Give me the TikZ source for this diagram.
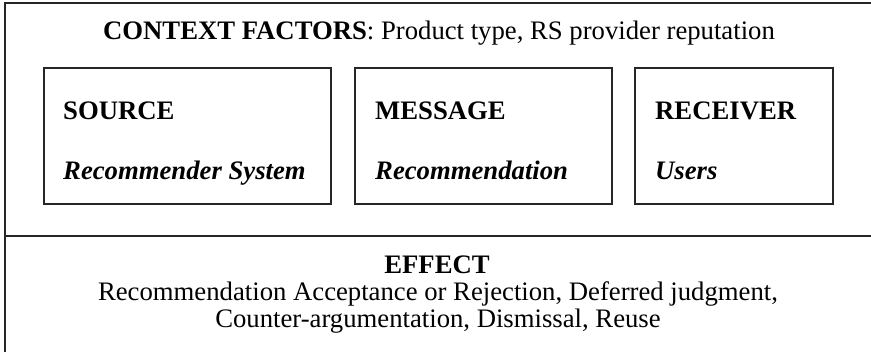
\documentclass[tikz,border=0pt]{standalone}
\usepackage{fontspec}
\setmainfont{Liberation Serif}
\begin{document}
\begin{tikzpicture}[x=1pt,y=-1pt,
  frame/.style={draw=black!85,line width=2pt},
  boxline/.style={draw=black!85,line width=1.8pt},
  txt/.style={inner sep=0pt,font=\fontsize{26.7}{27}\selectfont},
  head/.style={txt,anchor=base west,font=\fontsize{26.7}{27}\selectfont\bfseries},
  sub/.style={txt,anchor=base west,font=\fontsize{26.7}{27}\selectfont\bfseries\itshape}]
\useasboundingbox (0,0) rectangle (871,352);
% outer frame (right and bottom cut off)
\coordinate (tl) at (5,3);
\coordinate (tr) at (872,3);
\coordinate (bl) at (5,353);
\coordinate (ml) at (5,236);
\coordinate (mr) at (872,236);
\draw[frame] (tr) -- (tl) -- (bl);
\draw[frame] (ml) -- (mr);
% context line
\node[txt,anchor=base] (ctx) at (439,40) {\textbf{CONTEXT FACTORS}: Product type, RS provider reputation};
% boxes
\node[boxline,minimum width=287,minimum height=136,anchor=north west,inner sep=0pt] (src) at (43,67) {};
\node[boxline,minimum width=257,minimum height=136,anchor=north west,inner sep=0pt] (msg) at (354,67) {};
\node[boxline,minimum width=198,minimum height=136,anchor=north west,inner sep=0pt] (rcv) at (634,67) {};
\node[head] (srcH) at (63,120) {SOURCE};
\node[sub] (srcS) at (63,180) {Recommender System};
\node[head] (msgH) at (375,120) {MESSAGE};
\node[sub] (msgS) at (375,180) {Recommendation};
\node[head] (rcvH) at (655,120) {RECEIVER};
\node[sub] (rcvS) at (655,180) {Users};
% effect
\node[txt,anchor=base,font=\fontsize{26.7}{27}\selectfont\bfseries] (eff) at (437,274) {EFFECT};
\node[txt,anchor=base] (eff1) at (438,301) {Recommendation Acceptance or Rejection, Deferred judgment,};
\node[txt,anchor=base] (eff2) at (438,328) {Counter-argumentation, Dismissal, Reuse};
\end{tikzpicture}
\end{document}
